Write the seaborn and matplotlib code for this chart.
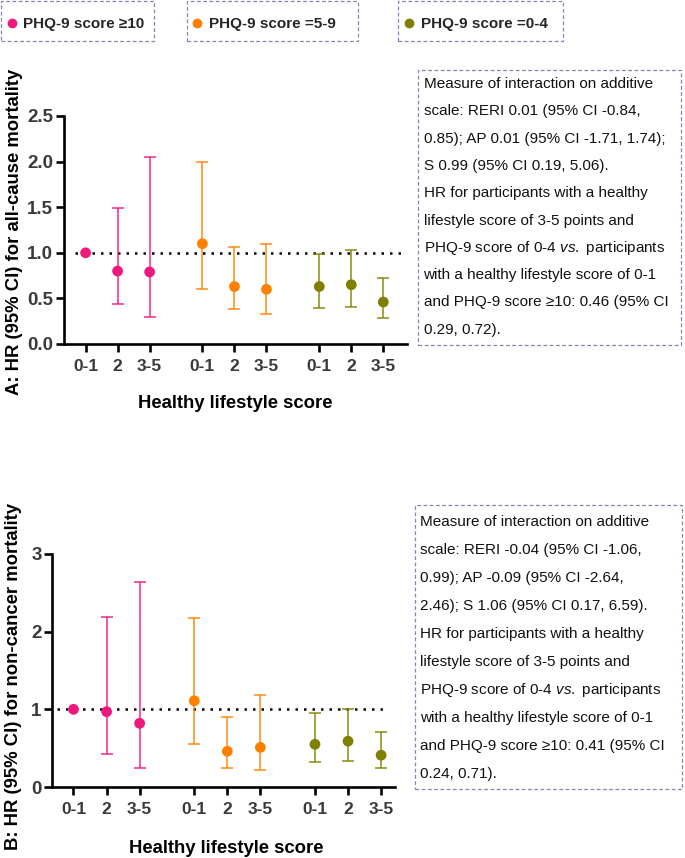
import numpy as np
import pandas as pd
import matplotlib
matplotlib.use("Agg")
import matplotlib.pyplot as plt
import seaborn as sns
from matplotlib.patches import Rectangle
from matplotlib.lines import Line2D

# ---------------- data ----------------
groups = ["PHQ-9 score \u226510", "PHQ-9 score =5-9", "PHQ-9 score =0-4"]
lifestyle = ["0-1", "2", "3-5"]
colors = ["#F0187C", "#FF8000", "#808000"]
ref_value = 1.0

# Panel A: all-cause mortality
hr_a = [1.00, 0.80, 0.79, 1.10, 0.63, 0.60, 0.63, 0.65, 0.46]
lo_a = [1.00, 0.44, 0.30, 0.60, 0.38, 0.33, 0.40, 0.41, 0.29]
hi_a = [1.00, 1.49, 2.05, 2.00, 1.06, 1.10, 0.99, 1.03, 0.72]
yticks_a = [0.0, 0.5, 1.0, 1.5, 2.0, 2.5]
ylabel_a = "A: HR (95% CI) for all-cause mortality"

# Panel B: non-cancer mortality
hr_b = [1.00, 0.97, 0.82, 1.11, 0.46, 0.51, 0.55, 0.59, 0.41]
lo_b = [1.00, 0.42, 0.25, 0.56, 0.24, 0.22, 0.32, 0.34, 0.24]
hi_b = [1.00, 2.19, 2.64, 2.17, 0.90, 1.19, 0.95, 1.01, 0.71]
yticks_b = [0, 1, 2, 3]
ylabel_b = "B: HR (95% CI) for non-cancer mortality"

xlabel = "Healthy lifestyle score"

text_a = [
    "Measure of interaction on additive",
    "scale: RERI 0.01 (95% CI -0.84,",
    "0.85); AP 0.01 (95% CI -1.71, 1.74);",
    "S 0.99 (95% CI 0.19, 5.06).",
    "HR for participants with a healthy",
    "lifestyle score of 3-5 points and",
    r"PHQ-9 score of 0-4 $\mathit{vs.}$ participants",
    "with a healthy lifestyle score of 0-1",
    "and PHQ-9 score \u226510: 0.46 (95% CI",
    "0.29, 0.72).",
]
text_b = [
    "Measure of interaction on additive",
    "scale: RERI -0.04 (95% CI -1.06,",
    "0.99); AP -0.09 (95% CI -2.64,",
    "2.46); S 1.06 (95% CI 0.17, 6.59).",
    "HR for participants with a healthy",
    "lifestyle score of 3-5 points and",
    r"PHQ-9 score of 0-4 $\mathit{vs.}$ participants",
    "with a healthy lifestyle score of 0-1",
    "and PHQ-9 score \u226510: 0.41 (95% CI",
    "0.24, 0.71).",
]

# ---------------- style ----------------
sns.set_theme(style="ticks")
plt.rcParams["font.family"] = ["Liberation Sans", "DejaVu Sans"]
plt.rcParams["mathtext.fontset"] = "custom"
plt.rcParams["mathtext.rm"] = "Liberation Sans"
plt.rcParams["mathtext.it"] = "Liberation Sans:italic"

W, H = 685, 858
fig = plt.figure(figsize=(W / 100, H / 100), dpi=100)


def fx(x):
    return x / W


def fy(y):
    return 1 - y / H


GAP = 3.65
DASH_COLOR = "#8585b8"
TICK_COLOR = "#3a3a3a"


def make_df(hr, lo, hi):
    df = pd.DataFrame({
        "group": np.repeat(groups, len(lifestyle)),
        "lifestyle": lifestyle * len(groups),
        "hr": hr, "lo": lo, "hi": hi,
    })
    gi = np.repeat(np.arange(len(groups)), len(lifestyle))
    li = np.tile(np.arange(len(lifestyle)), len(groups))
    df["pos"] = gi * GAP + li
    return df


def draw_panel(rect_px, df, yticks, ylabel, xlim, ref_span, ylab_xy, xlab_xy, yfmt):
    l, t, r, b = rect_px
    ax = fig.add_axes([fx(l), fy(b), (r - l) / W, (b - t) / H])
    # reference line
    ax.axhline(ref_value, xmin=ref_span[0], xmax=ref_span[1], color="black",
               lw=1.8, ls=(0, (1, 2.4)), zorder=1)
    # error bars
    for _, row in df.iterrows():
        if row.hi == row.lo:
            continue
        c = colors[groups.index(row.group)]
        ax.errorbar(row.pos, row.hr, yerr=[[row.hr - row.lo], [row.hi - row.hr]],
                    fmt="none", ecolor=c, elinewidth=1.2, capsize=4, capthick=1.2,
                    zorder=2, alpha=0.85)
    # points
    sns.scatterplot(data=df, x="pos", y="hr", hue="group", palette=colors,
                    hue_order=groups, s=60, edgecolor="none", legend=False,
                    ax=ax, zorder=3)
    ax.set_xlim(*xlim)
    ax.set_ylim(yticks[0], yticks[-1])
    ax.set_yticks(yticks)
    ax.set_yticklabels([yfmt.format(v) for v in yticks])
    ax.set_xticks(df["pos"])
    ax.set_xticklabels(df["lifestyle"])
    for s in ["top", "right"]:
        ax.spines[s].set_visible(False)
    for s in ["left", "bottom"]:
        ax.spines[s].set_linewidth(1.9)
        ax.spines[s].set_color("black")
    ax.tick_params(axis="both", direction="out", length=6, width=1.9, color="black")
    ax.tick_params(axis="x", pad=4.5, labelsize=12.5, labelcolor=TICK_COLOR)
    ax.tick_params(axis="y", pad=1.5, labelsize=13.5, labelcolor=TICK_COLOR)
    for lab in ax.get_xticklabels() + ax.get_yticklabels():
        lab.set_fontweight("bold")
    ax.set_xlabel(xlabel, fontsize=13.3, fontweight="bold", color="black")
    ax.set_ylabel(ylabel, fontsize=13.3, fontweight="bold", color="black")
    ax.xaxis.set_label_coords(*xlab_xy)
    ax.xaxis.label.set_va("center")
    ax.yaxis.set_label_coords(*ylab_xy)
    ax.yaxis.label.set_va("center")
    ax.grid(False)
    return ax


df_a = make_df(hr_a, lo_a, hi_a)
df_b = make_df(hr_b, lo_b, hi_b)

draw_panel((63.5, 116, 407, 344), df_a, yticks_a, ylabel_a, (-0.69, 10.04),
           (0.034, 0.99), (-0.143, 0.493), (0.5, -0.259), "{:.1f}")
draw_panel((52, 554, 395, 787), df_b, yticks_b, ylabel_b, (-0.65, 9.72),
           (0.016, 0.979), (-0.112, 0.476), (0.509, -0.262), "{:d}")

# ---------------- top legend boxes ----------------
leg_boxes = [(0.5, 153.5), (187, 357.5), (398, 562.5)]
marker_cx = [11.8, 197.4, 409.2]
for g, c, (bl, br), mx in zip(groups, colors, leg_boxes, marker_cx):
    fig.add_artist(Rectangle((fx(bl), fy(41)), (br - bl) / W, 40.5 / H,
                             transform=fig.transFigure, fill=False,
                             edgecolor=DASH_COLOR, lw=0.9, ls=(0, (3, 2))))
    h = Line2D([], [], marker="o", ls="none", color=c, markersize=6)
    fs = 11
    hl = 0.6
    left = mx - hl * fs * 100 / 72 / 2
    fig.legend(handles=[h], labels=[g], loc="center left",
               bbox_to_anchor=(fx(left), fy(24)), frameon=False,
               prop={"size": fs, "weight": "bold"}, handlelength=hl,
               handletextpad=0.46, borderpad=0, borderaxespad=0)

# ---------------- text boxes ----------------
def text_box(box_px, lines, x0, y0, dy, fs):
    l, t, r, b = box_px
    fig.add_artist(Rectangle((fx(l), fy(b)), (r - l) / W, (b - t) / H,
                             transform=fig.transFigure, fill=False,
                             edgecolor=DASH_COLOR, lw=0.9, ls=(0, (3, 2))))
    for i, line in enumerate(lines):
        fig.text(fx(x0), fy(y0 + i * dy), line, fontsize=fs, color="#111111",
                 ha="left", va="center")


text_box((418, 70, 681, 345), text_a, 423.5, 84, 27.3, 11)
text_box((415, 505, 682, 789), text_b, 420.5, 522, 28, 11)

fig.savefig("out.png", dpi=100)
